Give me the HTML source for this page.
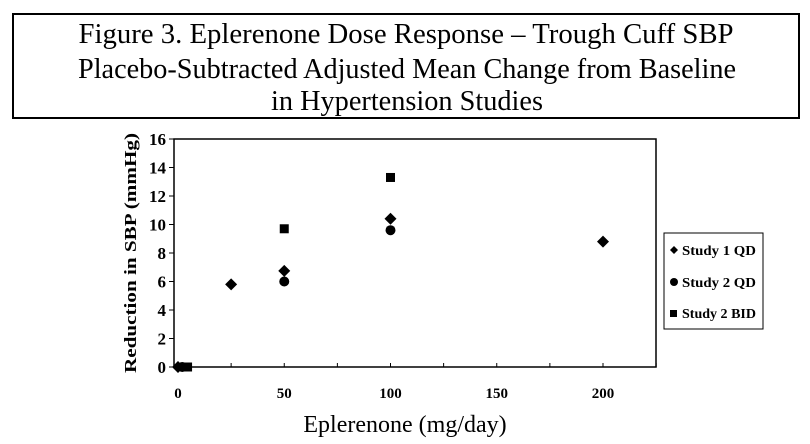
<!DOCTYPE html>
<html><head><meta charset="utf-8"><style>
body{margin:0;background:#fff}
svg{display:block}
text{font-family:"Liberation Serif",serif;fill:#000}
</style></head><body>
<svg id="c" width="810" height="444" viewBox="0 0 810 444">
<rect x="13" y="14" width="786" height="104" fill="none" stroke="#000" stroke-width="2"/>
<text x="406" y="43" text-anchor="middle" font-size="29" textLength="655" lengthAdjust="spacingAndGlyphs">Figure 3. Eplerenone Dose Response – Trough Cuff SBP</text>
<text x="407" y="78" text-anchor="middle" font-size="29" textLength="658" lengthAdjust="spacingAndGlyphs">Placebo-Subtracted Adjusted Mean Change from Baseline</text>
<text x="407" y="110" text-anchor="middle" font-size="29" textLength="272" lengthAdjust="spacingAndGlyphs">in Hypertension Studies</text>
<g id="plot"></g>
<text x="405" y="432" text-anchor="middle" font-size="24">Eplerenone (mg/day)</text>
<text transform="translate(136,253) rotate(-90)" text-anchor="middle" font-size="17" font-weight="bold" textLength="240" lengthAdjust="spacingAndGlyphs">Reduction in  SBP (mmHg)</text>
<g>
<rect x="664" y="233" width="99" height="96" fill="#fff" stroke="#000" stroke-width="1"/>
<path d="M670 250 l4 -4 l4 4 l-4 4z"/>
<text x="682" y="255" font-size="14" font-weight="bold" textLength="74" lengthAdjust="spacingAndGlyphs">Study 1 QD</text>
<circle cx="674" cy="282" r="4"/>
<text x="682" y="287" font-size="14" font-weight="bold" textLength="74" lengthAdjust="spacingAndGlyphs">Study 2 QD</text>
<rect x="670" y="310" width="7" height="7"/>
<text x="682" y="318" font-size="14" font-weight="bold" textLength="74" lengthAdjust="spacingAndGlyphs">Study 2 BID</text>
</g>
</svg>
<script>
const xTicks=[0,50,100,150,200];
const yTicks=[0,2,4,6,8,10,12,14,16];
const s1Dose=[0,25,50,100,200];
const s1Val=[0,5.8,6.75,10.4,8.8];
const s2Dose=[2,50,100];
const s2Val=[0,6.0,9.6];
const bidDose=[4.5,50,100];
const bidVal=[0,9.7,13.3];
const X0=178,X1=390.5,L=174,R=656,YT=139,YB=367;
const sx=v=>X0+(X1-X0)*v/100;
const sy=v=>YB-(YB-YT)*v/16;
const NS='http://www.w3.org/2000/svg';
const g=document.getElementById('plot');
function mk(t,a){const e=document.createElementNS(NS,t);for(const k in a)e.setAttribute(k,a[k]);g.appendChild(e);return e;}
let e=mk('rect',{x:L,y:YT,width:R-L,height:YB-YT,fill:'none',stroke:'#000','stroke-width':1.5});


yTicks.forEach(v=>{
 const y=sy(v);
 let t=mk('line',{x1:L-5,x2:L,y1:y,y2:y,stroke:'#000'});
 
 
 let l=mk('text',{x:L-8,y:y+6,'text-anchor':'end','font-size':17,'font-weight':'bold'});
 l.textContent=v;
 
 
});
for(let v=25;v<=225;v+=25){
 const x=sx(v);
 let t=mk('line',{x1:x,x2:x,y1:YB,y2:YB-4,stroke:'#000'});
 
 
}
xTicks.forEach(v=>{
 let l=mk('text',{x:sx(v),y:398,'text-anchor':'middle','font-size':15,'font-weight':'bold'});
 l.textContent=v;
 
 
});
s2Dose.forEach((d,i)=>{
 let c=mk('circle',{cx:sx(d),cy:sy(s2Val[i]),r:5});
 
 
});
bidDose.forEach((d,i)=>{
 let c=mk('rect',{x:sx(d)-4.5,y:sy(bidVal[i])-4.5,width:9,height:9});
 
 
});
s1Dose.forEach((d,i)=>{
 const x=sx(d),y=sy(s1Val[i]);
 let c=mk('path',{d:`M${x-6} ${y} L${x} ${y-6} L${x+6} ${y} L${x} ${y+6}Z`});
 
 
});
</script>
</body></html>
